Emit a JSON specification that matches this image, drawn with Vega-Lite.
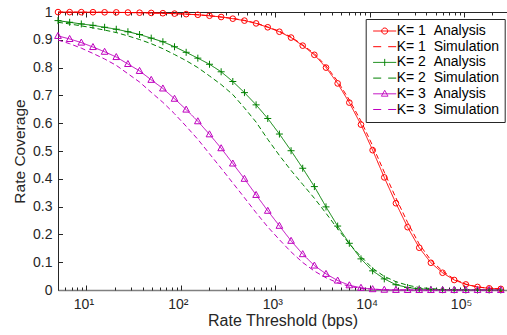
{
  "$schema": "https://vega.github.io/schema/vega-lite/v6.json",
  "width": 449,
  "height": 278,
  "autosize": {"type": "none"},
  "padding": {"left": 58, "top": 12, "right": 0, "bottom": 45},
  "background": "white",
  "config": {"font": "Liberation Sans", "view": {"stroke": null}},
  "datasets": {
    "curves": [
      {"x": 5, "a1": 0.9997, "s1": 0.9997, "a2": 0.969, "s2": 0.963, "a3": 0.914, "s3": 0.899},
      {"x": 6.644, "a1": 0.9995, "s1": 0.9995, "a2": 0.963, "s2": 0.957, "a3": 0.903, "s3": 0.886},
      {"x": 8.828, "a1": 0.9994, "s1": 0.9994, "a2": 0.957, "s2": 0.950, "a3": 0.890, "s3": 0.870},
      {"x": 11.73, "a1": 0.9992, "s1": 0.9992, "a2": 0.952, "s2": 0.943, "a3": 0.874, "s3": 0.851},
      {"x": 15.58, "a1": 0.9989, "s1": 0.9989, "a2": 0.945, "s2": 0.935, "a3": 0.857, "s3": 0.831},
      {"x": 20.71, "a1": 0.9986, "s1": 0.9986, "a2": 0.938, "s2": 0.926, "a3": 0.838, "s3": 0.808},
      {"x": 27.51, "a1": 0.9981, "s1": 0.9981, "a2": 0.929, "s2": 0.914, "a3": 0.813, "s3": 0.778},
      {"x": 36.56, "a1": 0.9975, "s1": 0.9975, "a2": 0.919, "s2": 0.901, "a3": 0.788, "s3": 0.748},
      {"x": 48.57, "a1": 0.9967, "s1": 0.9967, "a2": 0.906, "s2": 0.886, "a3": 0.756, "s3": 0.711},
      {"x": 64.54, "a1": 0.9956, "s1": 0.9956, "a2": 0.893, "s2": 0.868, "a3": 0.725, "s3": 0.675},
      {"x": 85.76, "a1": 0.9942, "s1": 0.9942, "a2": 0.875, "s2": 0.847, "a3": 0.688, "s3": 0.634},
      {"x": 113.9, "a1": 0.9923, "s1": 0.9923, "a2": 0.855, "s2": 0.825, "a3": 0.649, "s3": 0.589},
      {"x": 151.4, "a1": 0.990, "s1": 0.990, "a2": 0.834, "s2": 0.800, "a3": 0.607, "s3": 0.542},
      {"x": 201.2, "a1": 0.9865, "s1": 0.9865, "a2": 0.812, "s2": 0.770, "a3": 0.560, "s3": 0.490},
      {"x": 267.3, "a1": 0.982, "s1": 0.982, "a2": 0.785, "s2": 0.739, "a3": 0.510, "s3": 0.438},
      {"x": 355.2, "a1": 0.976, "s1": 0.977, "a2": 0.750, "s2": 0.703, "a3": 0.455, "s3": 0.385},
      {"x": 471.9, "a1": 0.969, "s1": 0.970, "a2": 0.710, "s2": 0.655, "a3": 0.400, "s3": 0.332},
      {"x": 627.0, "a1": 0.959, "s1": 0.960, "a2": 0.666, "s2": 0.604, "a3": 0.342, "s3": 0.278},
      {"x": 833.2, "a1": 0.945, "s1": 0.946, "a2": 0.617, "s2": 0.542, "a3": 0.285, "s3": 0.227},
      {"x": 1107, "a1": 0.929, "s1": 0.931, "a2": 0.561, "s2": 0.484, "a3": 0.231, "s3": 0.181},
      {"x": 1471, "a1": 0.908, "s1": 0.910, "a2": 0.501, "s2": 0.430, "a3": 0.177, "s3": 0.137},
      {"x": 1954, "a1": 0.879, "s1": 0.882, "a2": 0.438, "s2": 0.380, "a3": 0.129, "s3": 0.099},
      {"x": 2597, "a1": 0.846, "s1": 0.850, "a2": 0.372, "s2": 0.330, "a3": 0.088, "s3": 0.068},
      {"x": 3450, "a1": 0.800, "s1": 0.806, "a2": 0.299, "s2": 0.276, "a3": 0.058, "s3": 0.044},
      {"x": 4584, "a1": 0.743, "s1": 0.751, "a2": 0.230, "s2": 0.220, "a3": 0.034, "s3": 0.026},
      {"x": 6091, "a1": 0.674, "s1": 0.684, "a2": 0.168, "s2": 0.166, "a3": 0.017, "s3": 0.013},
      {"x": 8094, "a1": 0.595, "s1": 0.608, "a2": 0.112, "s2": 0.120, "a3": 0.008, "s3": 0.006},
      {"x": 10754, "a1": 0.503, "s1": 0.519, "a2": 0.069, "s2": 0.078, "a3": 0.003, "s3": 0.003},
      {"x": 14289, "a1": 0.405, "s1": 0.424, "a2": 0.040, "s2": 0.049, "a3": 0.001, "s3": 0.001},
      {"x": 18986, "a1": 0.312, "s1": 0.331, "a2": 0.019, "s2": 0.030, "a3": 0.0003, "s3": 0.0003},
      {"x": 25227, "a1": 0.226, "s1": 0.243, "a2": 0.009, "s2": 0.017, "a3": 0.0001, "s3": 0.0001},
      {"x": 33520, "a1": 0.152, "s1": 0.165, "a2": 0.004, "s2": 0.009, "a3": 0, "s3": 0},
      {"x": 44539, "a1": 0.098, "s1": 0.107, "a2": 0.002, "s2": 0.005, "a3": 0, "s3": 0},
      {"x": 59179, "a1": 0.062, "s1": 0.068, "a2": 0.001, "s2": 0.002, "a3": 0, "s3": 0},
      {"x": 78632, "a1": 0.036, "s1": 0.039, "a2": 0.0005, "s2": 0.001, "a3": 0, "s3": 0},
      {"x": 104480, "a1": 0.020, "s1": 0.021, "a2": 0.0002, "s2": 0.0005, "a3": 0, "s3": 0},
      {"x": 138825, "a1": 0.011, "s1": 0.011, "a2": 0.0001, "s2": 0.0002, "a3": 0, "s3": 0},
      {"x": 184460, "a1": 0.006, "s1": 0.006, "a2": 0, "s2": 0, "a3": 0, "s3": 0},
      {"x": 245092, "a1": 0.004, "s1": 0.004, "a2": 0, "s2": 0, "a3": 0, "s3": 0}
    ]
  },
  "data": {"name": "curves"},
  "transform": [{"fold": ["a1", "s1", "a2", "s2", "a3", "s3"], "as": ["s", "y"]}],
  "resolve": {
    "axis": {"x": "independent", "y": "independent"},
    "scale": {"color": "independent", "strokeDash": "independent", "shape": "independent"}
  },
  "layer": [
    {
      "mark": {"type": "line", "strokeWidth": 1},
      "encoding": {
        "x": {
          "field": "x", "type": "quantitative",
          "scale": {"type": "log", "domain": [5, 285000], "nice": false},
          "axis": {
            "orient": "bottom",
            "values": [10, 100, 1000, 10000, 100000],
            "labelExpr": "datum.value == 10 ? '10¹' : datum.value == 100 ? '10²' : datum.value == 1000 ? '10³' : datum.value == 10000 ? '10⁴' : '10⁵'",
            "ticks": false, "grid": false,
            "domain": true, "domainColor": "#808080", "domainWidth": 1.5,
            "labelFont": "Liberation Sans", "labelFontSize": 14, "labelColor": "#262626",
            "labelPadding": 7, "labelOffset": -3,
            "title": "Rate Threshold (bps)", "titleFont": "Liberation Sans", "titleFontSize": 16,
            "titleFontWeight": "normal", "titleColor": "#262626", "titlePadding": 1
          }
        },
        "y": {
          "field": "y", "type": "quantitative",
          "scale": {"domain": [0, 1], "nice": false},
          "axis": {
            "orient": "left",
            "values": [0, 0.1, 0.2, 0.3, 0.4, 0.5, 0.6, 0.7, 0.8, 0.9, 1],
            "format": ".1~f",
            "ticks": false, "grid": false,
            "domain": true, "domainColor": "#262626", "domainWidth": 1,
            "labelFont": "Liberation Sans", "labelFontSize": 14, "labelColor": "#262626",
            "labelPadding": 6,
            "title": "Rate Coverage", "titleFont": "Liberation Sans", "titleFontSize": 15.5,
            "titleFontWeight": "normal", "titleColor": "#262626", "titlePadding": 5
          }
        },
        "color": {
          "field": "s", "type": "nominal",
          "scale": {"domain": ["a1", "s1", "a2", "s2", "a3", "s3"], "range": ["#ff0000", "#ff0000", "#008000", "#008000", "#bf00bf", "#bf00bf"]},
          "legend": null
        },
        "strokeDash": {
          "field": "s", "type": "nominal",
          "scale": {"domain": ["a1", "s1", "a2", "s2", "a3", "s3"], "range": [[1, 0], [5, 3], [1, 0], [5, 3], [1, 0], [5, 3]]},
          "legend": null
        }
      }
    },
    {
      "transform": [{"filter": "datum.s == 'a1'"}],
      "mark": {"type": "point", "shape": "circle", "size": 32, "filled": false, "color": "#ff0000", "strokeWidth": 1, "opacity": 1},
      "encoding": {
        "x": {
          "field": "x", "type": "quantitative",
          "axis": {
            "orient": "bottom",
            "values": [5, 6, 7, 8, 9, 10, 20, 30, 40, 50, 60, 70, 80, 90, 100, 200, 300, 400, 500, 600, 700, 800, 900, 1000, 2000, 3000, 4000, 5000, 6000, 7000, 8000, 9000, 10000, 20000, 30000, 40000, 50000, 60000, 70000, 80000, 90000, 100000, 200000],
            "labels": false, "domain": false, "grid": false, "title": null,
            "tickColor": "#262626", "tickWidth": 1,
            "tickSize": {"condition": {"test": "datum.value == 10 || datum.value == 100 || datum.value == 1000 || datum.value == 10000 || datum.value == 100000", "value": -5}, "value": -3}
          }
        },
        "y": {
          "field": "y", "type": "quantitative",
          "axis": {
            "orient": "left",
            "values": [0.1, 0.2, 0.3, 0.4, 0.5, 0.6, 0.7, 0.8, 0.9],
            "labels": false, "domain": false, "grid": false, "title": null,
            "tickColor": "#262626", "tickWidth": 1, "tickSize": -4.5
          }
        }
      }
    },
    {
      "transform": [{"filter": "datum.s == 'a2'"}],
      "mark": {"type": "point", "shape": "M-1,0H1M0,-1V1", "size": 49, "filled": false, "color": "#008000", "strokeWidth": 1, "opacity": 1},
      "encoding": {
        "x": {
          "field": "x", "type": "quantitative",
          "axis": {
            "orient": "top",
            "values": [5, 6, 7, 8, 9, 10, 20, 30, 40, 50, 60, 70, 80, 90, 100, 200, 300, 400, 500, 600, 700, 800, 900, 1000, 2000, 3000, 4000, 5000, 6000, 7000, 8000, 9000, 10000, 20000, 30000, 40000, 50000, 60000, 70000, 80000, 90000, 100000, 200000],
            "labels": false, "domain": true, "domainColor": "#262626", "domainWidth": 1, "grid": false, "title": null,
            "tickColor": "#262626", "tickWidth": 1,
            "tickSize": {"condition": {"test": "datum.value == 10 || datum.value == 100 || datum.value == 1000 || datum.value == 10000 || datum.value == 100000", "value": -5}, "value": -3}
          }
        },
        "y": {"field": "y", "type": "quantitative", "axis": null}
      }
    },
    {
      "transform": [{"filter": "datum.s == 'a3'"}],
      "mark": {"type": "point", "shape": "M0,-1L0.95,0.72L-0.95,0.72Z", "size": 49, "filled": false, "color": "#bf00bf", "strokeWidth": 1, "opacity": 1},
      "encoding": {
        "x": {"field": "x", "type": "quantitative", "axis": null},
        "y": {"field": "y", "type": "quantitative", "axis": null}
      }
    },
    {
      "data": {"values": []},
      "mark": {"type": "point", "filled": false, "strokeWidth": 1, "opacity": 1},
      "encoding": {
        "color": {
          "field": "s", "type": "nominal",
          "scale": {"domain": ["a1", "s1", "a2", "s2", "a3", "s3"], "range": ["#ff0000", "#ff0000", "#008000", "#008000", "#bf00bf", "#bf00bf"]},
          "legend": {
            "orient": "none", "legendX": 307.7, "legendY": 7, "title": null, "direction": "vertical",
            "padding": 5, "symbolSize": 64, "symbolOffset": 7, "labelOffset": 5, "rowPadding": 1.7,
            "symbolStrokeWidth": 1,
            "labelFont": "Liberation Sans", "labelFontSize": 14, "labelColor": "#000000", "labelLimit": 300,
            "strokeColor": "#262626", "fillColor": "#ffffff",
            "labelExpr": "{'a1': 'K= 1\u00a0\u00a0Analysis', 's1': 'K= 1\u00a0\u00a0Simulation', 'a2': 'K= 2\u00a0\u00a0Analysis', 's2': 'K= 2\u00a0\u00a0Simulation', 'a3': 'K= 3\u00a0\u00a0Analysis', 's3': 'K= 3\u00a0\u00a0Simulation'}[datum.value]"
          }
        },
        "shape": {
          "field": "s", "type": "nominal",
          "scale": {"domain": ["a1", "s1", "a2", "s2", "a3", "s3"], "range": [
            "M-2.875,0H2.875M0.75,0A0.75,0.75,0,1,1,-0.75,0A0.75,0.75,0,1,1,0.75,0",
            "M-2.875,0H2.875",
            "M-2.875,0H2.875M0,-0.875V0.875",
            "M-2.875,0H2.875",
            "M-2.875,0H2.875M0,-0.875L0.83,0.6L-0.83,0.6Z",
            "M-2.875,0H2.875"
          ]}
        },
        "strokeDash": {
          "field": "s", "type": "nominal",
          "scale": {"domain": ["a1", "s1", "a2", "s2", "a3", "s3"], "range": [[1, 0], [8, 7], [1, 0], [8, 7], [1, 0], [8, 7]]}
        }
      }
    }
  ]
}
